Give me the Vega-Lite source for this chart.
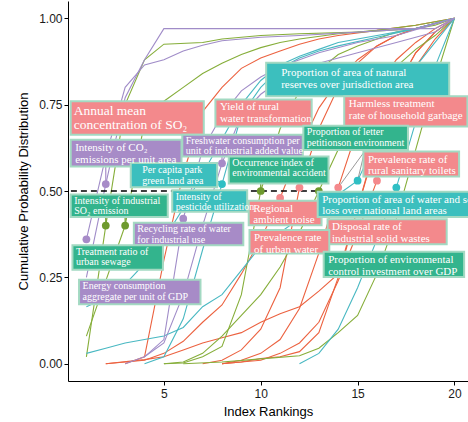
{
"$schema":"https://vega.github.io/schema/vega-lite/v6.json",
"autosize":"none","width":400,"height":380,
"padding":{"left":68,"top":1,"right":0,"bottom":41},
"background":"white",
"config":{"view":{"stroke":null},"axis":{"grid":false,"domainColor":"black","domainWidth":1,"tickColor":"black","tickSize":4,"labelFont":"Liberation Sans","labelFontSize":12,"labelColor":"#1a1a1a","titleFont":"Liberation Sans","titleFontSize":13,"titleFontWeight":"normal","titleColor":"black"}},
"datasets":{
"lines":[
{"ind":"R1","g":"R","r":3,"p":0},{"ind":"R1","g":"R","r":4,"p":0.02},{"ind":"R1","g":"R","r":5,"p":0.3},{"ind":"R1","g":"R","r":6,"p":0.55},{"ind":"R1","g":"R","r":7,"p":0.73},{"ind":"R1","g":"R","r":8,"p":0.8},{"ind":"R1","g":"R","r":9,"p":0.855},{"ind":"R1","g":"R","r":10,"p":0.885},{"ind":"R1","g":"R","r":11,"p":0.905},{"ind":"R1","g":"R","r":12,"p":0.925},{"ind":"R1","g":"R","r":13,"p":0.94},{"ind":"R1","g":"R","r":14,"p":0.95},{"ind":"R1","g":"R","r":16,"p":0.965},{"ind":"R1","g":"R","r":18,"p":0.98},{"ind":"R1","g":"R","r":20,"p":1},
{"ind":"R2","g":"R","r":2,"p":0},{"ind":"R2","g":"R","r":4,"p":0.01},{"ind":"R2","g":"R","r":5,"p":0.03},{"ind":"R2","g":"R","r":6,"p":0.065},{"ind":"R2","g":"R","r":7,"p":0.12},{"ind":"R2","g":"R","r":8,"p":0.17},{"ind":"R2","g":"R","r":9,"p":0.26},{"ind":"R2","g":"R","r":10,"p":0.36},{"ind":"R2","g":"R","r":11,"p":0.48},{"ind":"R2","g":"R","r":12,"p":0.62},{"ind":"R2","g":"R","r":13,"p":0.74},{"ind":"R2","g":"R","r":14,"p":0.82},{"ind":"R2","g":"R","r":15,"p":0.88},{"ind":"R2","g":"R","r":16,"p":0.92},{"ind":"R2","g":"R","r":17,"p":0.95},{"ind":"R2","g":"R","r":18,"p":0.97},{"ind":"R2","g":"R","r":19,"p":0.985},{"ind":"R2","g":"R","r":20,"p":1},
{"ind":"R3","g":"R","r":2,"p":0},{"ind":"R3","g":"R","r":4,"p":0.012},{"ind":"R3","g":"R","r":5,"p":0.02},{"ind":"R3","g":"R","r":6,"p":0.04},{"ind":"R3","g":"R","r":7,"p":0.06},{"ind":"R3","g":"R","r":8,"p":0.075},{"ind":"R3","g":"R","r":9,"p":0.09},{"ind":"R3","g":"R","r":10,"p":0.12},{"ind":"R3","g":"R","r":11,"p":0.145},{"ind":"R3","g":"R","r":12,"p":0.165},{"ind":"R3","g":"R","r":13,"p":0.21},{"ind":"R3","g":"R","r":14,"p":0.26},{"ind":"R3","g":"R","r":15,"p":0.45},{"ind":"R3","g":"R","r":16,"p":0.65},{"ind":"R3","g":"R","r":17,"p":0.8},{"ind":"R3","g":"R","r":18,"p":0.9},{"ind":"R3","g":"R","r":19,"p":0.96},{"ind":"R3","g":"R","r":20,"p":1},
{"ind":"R4","g":"R","r":7,"p":0},{"ind":"R4","g":"R","r":8,"p":0.01},{"ind":"R4","g":"R","r":9,"p":0.04},{"ind":"R4","g":"R","r":10,"p":0.1},{"ind":"R4","g":"R","r":11,"p":0.22},{"ind":"R4","g":"R","r":12,"p":0.51},{"ind":"R4","g":"R","r":13,"p":0.68},{"ind":"R4","g":"R","r":14,"p":0.8},{"ind":"R4","g":"R","r":15,"p":0.87},{"ind":"R4","g":"R","r":16,"p":0.92},{"ind":"R4","g":"R","r":17,"p":0.95},{"ind":"R4","g":"R","r":18,"p":0.97},{"ind":"R4","g":"R","r":19,"p":0.985},{"ind":"R4","g":"R","r":20,"p":1},
{"ind":"R5","g":"R","r":8,"p":0},{"ind":"R5","g":"R","r":9,"p":0.01},{"ind":"R5","g":"R","r":10,"p":0.03},{"ind":"R5","g":"R","r":11,"p":0.07},{"ind":"R5","g":"R","r":12,"p":0.16},{"ind":"R5","g":"R","r":13,"p":0.32},{"ind":"R5","g":"R","r":14,"p":0.51},{"ind":"R5","g":"R","r":15,"p":0.68},{"ind":"R5","g":"R","r":16,"p":0.8},{"ind":"R5","g":"R","r":17,"p":0.88},{"ind":"R5","g":"R","r":18,"p":0.93},{"ind":"R5","g":"R","r":19,"p":0.97},{"ind":"R5","g":"R","r":20,"p":1},
{"ind":"R6","g":"R","r":8,"p":0},{"ind":"R6","g":"R","r":10,"p":0.01},{"ind":"R6","g":"R","r":11,"p":0.03},{"ind":"R6","g":"R","r":12,"p":0.06},{"ind":"R6","g":"R","r":13,"p":0.12},{"ind":"R6","g":"R","r":14,"p":0.24},{"ind":"R6","g":"R","r":15,"p":0.38},{"ind":"R6","g":"R","r":16,"p":0.53},{"ind":"R6","g":"R","r":17,"p":0.72},{"ind":"R6","g":"R","r":18,"p":0.86},{"ind":"R6","g":"R","r":19,"p":0.94},{"ind":"R6","g":"R","r":20,"p":1},
{"ind":"R7","g":"R","r":8,"p":0},{"ind":"R7","g":"R","r":9,"p":0.005},{"ind":"R7","g":"R","r":10,"p":0.015},{"ind":"R7","g":"R","r":11,"p":0.02},{"ind":"R7","g":"R","r":12,"p":0.035},{"ind":"R7","g":"R","r":13,"p":0.09},{"ind":"R7","g":"R","r":14,"p":0.25},{"ind":"R7","g":"R","r":15,"p":0.45},{"ind":"R7","g":"R","r":16,"p":0.64},{"ind":"R7","g":"R","r":17,"p":0.8},{"ind":"R7","g":"R","r":18,"p":0.9},{"ind":"R7","g":"R","r":19,"p":0.96},{"ind":"R7","g":"R","r":20,"p":1},
{"ind":"G1","g":"G","r":1,"p":0.02},{"ind":"G1","g":"G","r":2,"p":0.4},{"ind":"G1","g":"G","r":3,"p":0.75},{"ind":"G1","g":"G","r":4,"p":0.88},{"ind":"G1","g":"G","r":5,"p":0.925},{"ind":"G1","g":"G","r":7,"p":0.93},{"ind":"G1","g":"G","r":8,"p":0.94},{"ind":"G1","g":"G","r":10,"p":0.95},{"ind":"G1","g":"G","r":12,"p":0.955},{"ind":"G1","g":"G","r":15,"p":0.96},{"ind":"G1","g":"G","r":18,"p":0.97},{"ind":"G1","g":"G","r":20,"p":1},
{"ind":"G2","g":"G","r":1,"p":0.08},{"ind":"G2","g":"G","r":2,"p":0.24},{"ind":"G2","g":"G","r":3,"p":0.4},{"ind":"G2","g":"G","r":4,"p":0.7},{"ind":"G2","g":"G","r":5,"p":0.76},{"ind":"G2","g":"G","r":6,"p":0.8},{"ind":"G2","g":"G","r":7,"p":0.84},{"ind":"G2","g":"G","r":8,"p":0.87},{"ind":"G2","g":"G","r":9,"p":0.895},{"ind":"G2","g":"G","r":10,"p":0.915},{"ind":"G2","g":"G","r":11,"p":0.93},{"ind":"G2","g":"G","r":12,"p":0.94},{"ind":"G2","g":"G","r":14,"p":0.955},{"ind":"G2","g":"G","r":16,"p":0.965},{"ind":"G2","g":"G","r":18,"p":0.98},{"ind":"G2","g":"G","r":20,"p":1},
{"ind":"G3","g":"G","r":5,"p":0},{"ind":"G3","g":"G","r":6,"p":0.002},{"ind":"G3","g":"G","r":7,"p":0.02},{"ind":"G3","g":"G","r":8,"p":0.05},{"ind":"G3","g":"G","r":9,"p":0.2},{"ind":"G3","g":"G","r":10,"p":0.5},{"ind":"G3","g":"G","r":11,"p":0.68},{"ind":"G3","g":"G","r":12,"p":0.79},{"ind":"G3","g":"G","r":13,"p":0.85},{"ind":"G3","g":"G","r":14,"p":0.895},{"ind":"G3","g":"G","r":15,"p":0.92},{"ind":"G3","g":"G","r":16,"p":0.94},{"ind":"G3","g":"G","r":17,"p":0.96},{"ind":"G3","g":"G","r":18,"p":0.97},{"ind":"G3","g":"G","r":19,"p":0.98},{"ind":"G3","g":"G","r":20,"p":1},
{"ind":"G4","g":"G","r":5,"p":0},{"ind":"G4","g":"G","r":6,"p":0.005},{"ind":"G4","g":"G","r":7,"p":0.03},{"ind":"G4","g":"G","r":8,"p":0.08},{"ind":"G4","g":"G","r":9,"p":0.14},{"ind":"G4","g":"G","r":10,"p":0.2},{"ind":"G4","g":"G","r":11,"p":0.28},{"ind":"G4","g":"G","r":12,"p":0.38},{"ind":"G4","g":"G","r":13,"p":0.5},{"ind":"G4","g":"G","r":14,"p":0.62},{"ind":"G4","g":"G","r":15,"p":0.72},{"ind":"G4","g":"G","r":16,"p":0.8},{"ind":"G4","g":"G","r":17,"p":0.86},{"ind":"G4","g":"G","r":18,"p":0.91},{"ind":"G4","g":"G","r":19,"p":0.95},{"ind":"G4","g":"G","r":20,"p":1},
{"ind":"G5","g":"G","r":6,"p":0},{"ind":"G5","g":"G","r":8,"p":0.005},{"ind":"G5","g":"G","r":10,"p":0.014},{"ind":"G5","g":"G","r":12,"p":0.023},{"ind":"G5","g":"G","r":13,"p":0.045},{"ind":"G5","g":"G","r":14,"p":0.09},{"ind":"G5","g":"G","r":15,"p":0.14},{"ind":"G5","g":"G","r":16,"p":0.26},{"ind":"G5","g":"G","r":17,"p":0.42},{"ind":"G5","g":"G","r":18,"p":0.62},{"ind":"G5","g":"G","r":19,"p":0.82},{"ind":"G5","g":"G","r":20,"p":1},
{"ind":"T1","g":"T","r":1,"p":0.03},{"ind":"T1","g":"T","r":2,"p":0.045},{"ind":"T1","g":"T","r":3,"p":0.06},{"ind":"T1","g":"T","r":4,"p":0.07},{"ind":"T1","g":"T","r":5,"p":0.08},{"ind":"T1","g":"T","r":6,"p":0.105},{"ind":"T1","g":"T","r":7,"p":0.165},{"ind":"T1","g":"T","r":8,"p":0.2},{"ind":"T1","g":"T","r":9,"p":0.27},{"ind":"T1","g":"T","r":10,"p":0.34},{"ind":"T1","g":"T","r":11,"p":0.38},{"ind":"T1","g":"T","r":12,"p":0.42},{"ind":"T1","g":"T","r":13,"p":0.46},{"ind":"T1","g":"T","r":14,"p":0.49},{"ind":"T1","g":"T","r":15,"p":0.53},{"ind":"T1","g":"T","r":16,"p":0.65},{"ind":"T1","g":"T","r":17,"p":0.76},{"ind":"T1","g":"T","r":18,"p":0.86},{"ind":"T1","g":"T","r":19,"p":0.93},{"ind":"T1","g":"T","r":20,"p":1},
{"ind":"T2","g":"T","r":1,"p":0.165},{"ind":"T2","g":"T","r":2,"p":0.19},{"ind":"T2","g":"T","r":3,"p":0.23},{"ind":"T2","g":"T","r":4,"p":0.29},{"ind":"T2","g":"T","r":5,"p":0.36},{"ind":"T2","g":"T","r":6,"p":0.45},{"ind":"T2","g":"T","r":7,"p":0.55},{"ind":"T2","g":"T","r":8,"p":0.65},{"ind":"T2","g":"T","r":9,"p":0.75},{"ind":"T2","g":"T","r":10,"p":0.82},{"ind":"T2","g":"T","r":11,"p":0.865},{"ind":"T2","g":"T","r":12,"p":0.89},{"ind":"T2","g":"T","r":13,"p":0.91},{"ind":"T2","g":"T","r":14,"p":0.93},{"ind":"T2","g":"T","r":16,"p":0.95},{"ind":"T2","g":"T","r":18,"p":0.97},{"ind":"T2","g":"T","r":20,"p":1},
{"ind":"T3","g":"T","r":4,"p":0},{"ind":"T3","g":"T","r":5,"p":0.02},{"ind":"T3","g":"T","r":6,"p":0.13},{"ind":"T3","g":"T","r":7,"p":0.33},{"ind":"T3","g":"T","r":8,"p":0.52},{"ind":"T3","g":"T","r":9,"p":0.72},{"ind":"T3","g":"T","r":10,"p":0.8},{"ind":"T3","g":"T","r":11,"p":0.855},{"ind":"T3","g":"T","r":12,"p":0.885},{"ind":"T3","g":"T","r":13,"p":0.905},{"ind":"T3","g":"T","r":14,"p":0.92},{"ind":"T3","g":"T","r":16,"p":0.945},{"ind":"T3","g":"T","r":18,"p":0.97},{"ind":"T3","g":"T","r":20,"p":1},
{"ind":"T4","g":"T","r":12,"p":0},{"ind":"T4","g":"T","r":13,"p":0.03},{"ind":"T4","g":"T","r":14,"p":0.1},{"ind":"T4","g":"T","r":15,"p":0.22},{"ind":"T4","g":"T","r":16,"p":0.36},{"ind":"T4","g":"T","r":17,"p":0.51},{"ind":"T4","g":"T","r":18,"p":0.7},{"ind":"T4","g":"T","r":19,"p":0.86},{"ind":"T4","g":"T","r":20,"p":1},
{"ind":"P1","g":"P","r":1,"p":0.25},{"ind":"P1","g":"P","r":2,"p":0.52},{"ind":"P1","g":"P","r":3,"p":0.77},{"ind":"P1","g":"P","r":4,"p":0.88},{"ind":"P1","g":"P","r":5,"p":0.97},{"ind":"P1","g":"P","r":19,"p":0.97},{"ind":"P1","g":"P","r":20,"p":1},
{"ind":"P2","g":"P","r":1,"p":0.36},{"ind":"P2","g":"P","r":2,"p":0.6},{"ind":"P2","g":"P","r":3,"p":0.8},{"ind":"P2","g":"P","r":4,"p":0.865},{"ind":"P2","g":"P","r":5,"p":0.88},{"ind":"P2","g":"P","r":6,"p":0.905},{"ind":"P2","g":"P","r":7,"p":0.922},{"ind":"P2","g":"P","r":8,"p":0.935},{"ind":"P2","g":"P","r":10,"p":0.945},{"ind":"P2","g":"P","r":12,"p":0.95},{"ind":"P2","g":"P","r":15,"p":0.96},{"ind":"P2","g":"P","r":18,"p":0.97},{"ind":"P2","g":"P","r":20,"p":1},
{"ind":"P3","g":"P","r":4,"p":0.02},{"ind":"P3","g":"P","r":5,"p":0.07},{"ind":"P3","g":"P","r":6,"p":0.42},{"ind":"P3","g":"P","r":7,"p":0.62},{"ind":"P3","g":"P","r":8,"p":0.72},{"ind":"P3","g":"P","r":9,"p":0.79},{"ind":"P3","g":"P","r":10,"p":0.83},{"ind":"P3","g":"P","r":11,"p":0.86},{"ind":"P3","g":"P","r":12,"p":0.88},{"ind":"P3","g":"P","r":13,"p":0.9},{"ind":"P3","g":"P","r":15,"p":0.93},{"ind":"P3","g":"P","r":17,"p":0.95},{"ind":"P3","g":"P","r":20,"p":1},
{"ind":"P4","g":"P","r":3,"p":0},{"ind":"P4","g":"P","r":4,"p":0.02},{"ind":"P4","g":"P","r":5,"p":0.06},{"ind":"P4","g":"P","r":6,"p":0.2},{"ind":"P4","g":"P","r":7,"p":0.4},{"ind":"P4","g":"P","r":8,"p":0.58},{"ind":"P4","g":"P","r":9,"p":0.72},{"ind":"P4","g":"P","r":10,"p":0.78},{"ind":"P4","g":"P","r":11,"p":0.82},{"ind":"P4","g":"P","r":12,"p":0.85},{"ind":"P4","g":"P","r":13,"p":0.87},{"ind":"P4","g":"P","r":15,"p":0.9},{"ind":"P4","g":"P","r":17,"p":0.93},{"ind":"P4","g":"P","r":19,"p":0.96},{"ind":"P4","g":"P","r":20,"p":1}
],
"dots":[
{"g":"P","r":1,"p":0.36},{"g":"P","r":2,"p":0.52},{"g":"G","r":2,"p":0.4},{"g":"G","r":3,"p":0.4},{"g":"P","r":6,"p":0.42},{"g":"P","r":8,"p":0.58},{"g":"T","r":8,"p":0.52},{"g":"G","r":10,"p":0.5},{"g":"R","r":11,"p":0.48},{"g":"R","r":12,"p":0.51},{"g":"G","r":13,"p":0.5},{"g":"R","r":14,"p":0.51},{"g":"T","r":15,"p":0.53},{"g":"R","r":16,"p":0.53},{"g":"T","r":17,"p":0.51}
],
"segs":[
{"g":"P","r":2,"p":0.52,"r2":2,"p2":0.571},{"g":"G","r":2,"p":0.4,"r2":2,"p2":0.425},{"g":"G","r":3,"p":0.4,"r2":3,"p2":0.425},{"g":"P","r":8,"p":0.58,"r2":8,"p2":0.6},{"g":"T","r":8,"p":0.52,"r2":7.75,"p2":0.53},{"g":"G","r":10,"p":0.5,"r2":10,"p2":0.522}
],
"graysegs":[
{"r":14,"p":0.51,"r2":15.3,"p2":0.61},{"r":15,"p":0.53,"r2":15.3,"p2":0.6},{"r":17,"p":0.51,"r2":17,"p2":0.5}
],
"labels":[
{"id":"so2","lab":"Annual mean\nconcentration of SO₂","g":"R","x":0.19,"x2":7.06,"y":0.663,"y2":0.76},
{"id":"co2","lab":"Intensity of CO₂\nemissions per unit area","g":"P","x":0.19,"x2":5.91,"y":0.571,"y2":0.648},
{"id":"park","lab":"Per capita park\ngreen land area","g":"T","x":3.29,"x2":7.75,"y":0.511,"y2":0.581},
{"id":"indso2","lab":"Intensity of industrial\nSO₂ emission","g":"G","x":0.19,"x2":5.2,"y":0.425,"y2":0.49},
{"id":"pest","lab":"Intensity of\npesticide utilization","g":"T","x":5.43,"x2":9.3,"y":0.44,"y2":0.502},
{"id":"recyc","lab":"Recycling rate of water\nfor industrial use","g":"P","x":3.45,"x2":9.1,"y":0.343,"y2":0.408},
{"id":"treat","lab":"Treatment ratio of\nurban sewage","g":"G","x":0.28,"x2":4.95,"y":0.272,"y2":0.343},
{"id":"energy","lab":"Energy consumption\naggregate per unit of GDP","g":"P","x":0.62,"x2":6.89,"y":0.172,"y2":0.243},
{"id":"fresh","lab":"Freshwater consumption per\nunit of industrial added value","g":"P","x":5.95,"x2":12.17,"y":0.6,"y2":0.663},
{"id":"yield","lab":"Yield of rural\nwater transformation","g":"R","x":7.66,"x2":12.63,"y":0.687,"y2":0.765},
{"id":"natres","lab":"Proportion of area of natural\nreserves over jurisdiction area","g":"T","x":10.28,"x2":19.73,"y":0.774,"y2":0.871},
{"id":"garbage","lab":"Harmless treatment\nrate of household garbage","g":"R","x":14.31,"x2":20.67,"y":0.687,"y2":0.774},
{"id":"letter","lab":"Proportion of letter\npetitionson environment","g":"G","x":12.2,"x2":17.6,"y":0.619,"y2":0.689},
{"id":"accident","lab":"Occurrence index of\nenvironmental accident","g":"G","x":8.35,"x2":13.5,"y":0.522,"y2":0.6},
{"id":"toilets","lab":"Prevalence rate of\nrural sanitary toilets","g":"R","x":15.3,"x2":20.24,"y":0.542,"y2":0.614},
{"id":"noise","lab":"Regional\nambient noise","g":"R","x":9.38,"x2":13.14,"y":0.401,"y2":0.472},
{"id":"soil","lab":"Proportion of area of water and soil\nloss over national land areas","g":"T","x":12.94,"x2":22.8,"y":0.425,"y2":0.498},
{"id":"solid","lab":"Disposal rate of\nindustrial solid wastes","g":"R","x":13.45,"x2":19.6,"y":0.346,"y2":0.418},
{"id":"urbwater","lab":"Prevalence rate\nof urban water","g":"R","x":9.42,"x2":13.54,"y":0.319,"y2":0.387},
{"id":"invest","lab":"Proportion of environmental\ncontrol investment over GDP","g":"G","x":13.25,"x2":20.5,"y":0.251,"y2":0.324}
],
"ref":[{"x":0.2,"x2":12.95,"y":0.5}]
},
"layer":[
{"data":{"name":"lines"},"mark":{"type":"line","strokeWidth":1.1},
 "encoding":{
  "x":{"field":"r","type":"quantitative","scale":{"domain":[0.05,20.7],"nice":false,"zero":false},"axis":{"values":[5,10,15,20],"title":"Index Rankings","titlePadding":6,"labelPadding":3}},
  "y":{"field":"p","type":"quantitative","scale":{"domain":[-0.05,1.05],"nice":false,"zero":false},"axis":{"values":[0,0.25,0.5,0.75,1],"format":".2f","title":"Cumulative Probability Distribution","titlePadding":8,"labelPadding":2}},
  "stroke":{"field":"g","type":"nominal","scale":{"domain":["R","G","T","P"],"range":["#EC6240","#86AE3A","#48B8C2","#A08CC8"]},"legend":null},
  "detail":{"field":"ind"}}},
{"data":{"name":"ref"},"mark":{"type":"rule","strokeDash":[6,4],"strokeWidth":1.3,"color":"black"},
 "encoding":{"x":{"field":"x","type":"quantitative"},"x2":{"field":"x2"},"y":{"field":"y","type":"quantitative"}}},
{"data":{"name":"graysegs"},"mark":{"type":"rule","strokeWidth":1,"color":"#9a9a9a"},
 "encoding":{"x":{"field":"r","type":"quantitative"},"x2":{"field":"r2"},"y":{"field":"p","type":"quantitative"},"y2":{"field":"p2"}}},
{"data":{"name":"segs"},"mark":{"type":"rule","strokeWidth":1.2},
 "encoding":{"x":{"field":"r","type":"quantitative"},"x2":{"field":"r2"},"y":{"field":"p","type":"quantitative"},"y2":{"field":"p2"},
  "color":{"field":"g","type":"nominal","scale":{"domain":["R","G","T","P"],"range":["#F4898C","#6E9A2E","#2EBFC4","#A78BC8"]},"legend":null}}},
{"data":{"name":"dots"},"mark":{"type":"circle","size":60,"opacity":1},
 "encoding":{"x":{"field":"r","type":"quantitative"},"y":{"field":"p","type":"quantitative"},
  "color":{"field":"g","type":"nominal","scale":{"domain":["R","G","T","P"],"range":["#F4898C","#6E9A2E","#2EBFC4","#A78BC8"]},"legend":null}}},
{"data":{"name":"labels"},"mark":{"type":"rect","stroke":"#A3D9C2","strokeWidth":2},
 "encoding":{"x":{"field":"x","type":"quantitative"},"x2":{"field":"x2"},"y":{"field":"y","type":"quantitative"},"y2":{"field":"y2"},
  "fill":{"field":"g","type":"nominal","scale":{"domain":["R","G","T","P"],"range":["#F3898C","#33B48D","#3CBFBE","#A78BC7"]},"legend":null}}},
{"data":{"name":"labels"},"transform":[{"filter":{"field":"id","oneOf":["co2","yield","garbage","toilets","noise","soil","solid","urbwater","invest"]}}],
 "mark":{"type":"text","align":"left","baseline":"top","dx":4.5,"dy":2,"font":"Liberation Serif","fontSize":11,"lineHeight":11.8,"lineBreak":"\n","fill":"white"},
 "encoding":{"x":{"field":"x","type":"quantitative"},"y":{"field":"y2","type":"quantitative"},"text":{"field":"lab"}}},
{"data":{"name":"labels"},"transform":[{"filter":{"field":"id","oneOf":["indso2","pest","recyc","treat","energy","fresh","letter","accident"]}}],
 "mark":{"type":"text","align":"left","baseline":"top","dx":3.5,"dy":1.5,"font":"Liberation Serif","fontSize":10,"lineHeight":10.3,"lineBreak":"\n","fill":"white"},
 "encoding":{"x":{"field":"x","type":"quantitative"},"y":{"field":"y2","type":"quantitative"},"text":{"field":"lab"}}},
{"data":{"name":"labels"},"transform":[{"filter":{"field":"id","equal":"so2"}}],
 "mark":{"type":"text","align":"left","baseline":"top","dx":3,"dy":2.5,"font":"Liberation Serif","fontSize":13.5,"lineHeight":14.5,"lineBreak":"\n","fill":"white"},
 "encoding":{"x":{"field":"x","type":"quantitative"},"y":{"field":"y2","type":"quantitative"},"text":{"field":"lab"}}},
{"data":{"name":"labels"},"transform":[{"filter":{"field":"id","equal":"park"}}],
 "mark":{"type":"text","align":"left","baseline":"top","dx":11.5,"dy":2,"font":"Liberation Serif","fontSize":10,"lineHeight":11,"lineBreak":"\n","fill":"white"},
 "encoding":{"x":{"field":"x","type":"quantitative"},"y":{"field":"y2","type":"quantitative"},"text":{"field":"lab"}}},
{"data":{"name":"labels"},"transform":[{"filter":{"field":"id","equal":"natres"}}],
 "mark":{"type":"text","align":"left","baseline":"top","dx":15,"dy":4.5,"font":"Liberation Serif","fontSize":11,"lineHeight":12,"lineBreak":"\n","fill":"white"},
 "encoding":{"x":{"field":"x","type":"quantitative"},"y":{"field":"y2","type":"quantitative"},"text":{"field":"lab"}}}
]
}
